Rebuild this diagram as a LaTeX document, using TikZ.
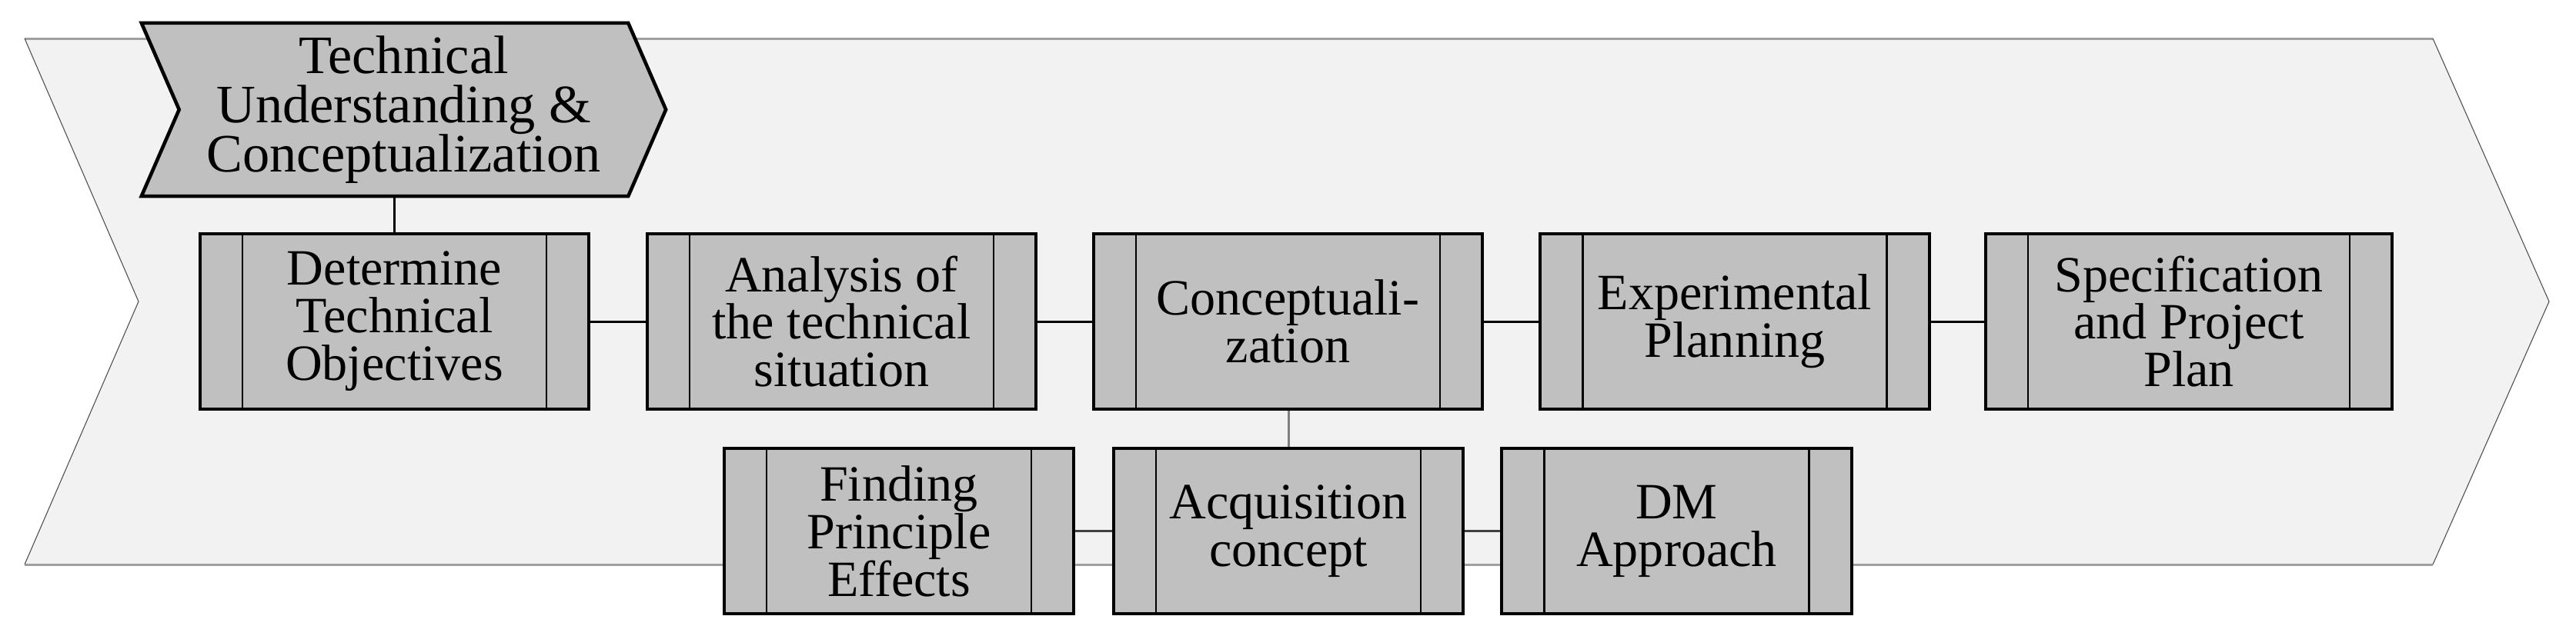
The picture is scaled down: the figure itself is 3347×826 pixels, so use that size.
\documentclass[tikz,border=0pt]{standalone}
\usepackage{fontspec}
\setmainfont{Liberation Serif}
\usetikzlibrary{shapes.symbols}
\definecolor{boxgray}{HTML}{C0C0C0}
\definecolor{bandgray}{HTML}{F2F2F2}
\definecolor{bandline}{HTML}{A0A0A0}
\definecolor{linkgray}{HTML}{7F7F7F}
\tikzset{procbox/.style = {rectangle,draw,fill=boxgray,line width=1.1pt,align=center,
    minimum width=5.05cm,minimum height=2.28cm,inner sep=0pt,
    font=\fontsize{18.8}{17.6}\selectfont,
    path picture={
      \draw[line width=0.7pt] ([xshift=0.55cm]path picture bounding box.north west) -- ([xshift=0.55cm]path picture bounding box.south west);
      \draw[line width=0.7pt] ([xshift=-0.55cm]path picture bounding box.north east) -- ([xshift=-0.55cm]path picture bounding box.south east);}}}
\tikzset{subbox/.style = {procbox,minimum width=4.54cm,minimum height=2.15cm}}
\tikzset{phase/.style = {signal,signal from=west,signal to=east,signal pointer angle=133,
    draw,fill=boxgray,line width=1.3pt,align=center,inner sep=0pt,
    minimum width=6.81cm,minimum height=2.25cm,
    font=\fontsize{20}{18.2}\selectfont}}
\tikzset{link/.style = {line width=0.85pt}}

\begin{document}
\begin{tikzpicture}[x=0.01cm,y=-0.01cm]
                    \useasboundingbox (0,0) rectangle (3347,826);
                    \fill[bandgray] (32,50) -- (3161,50) -- (3312,392) -- (3161,734) -- (32,734) -- (180,392) -- cycle;
                    \draw[bandline,line width=0.85pt] (32,50) -- (3161,50);
                    \draw[bandline,line width=0.85pt] (32,734) -- (3161,734);
                    \draw[black!70,line width=0.3pt] (3161,50) -- (3312,392) -- (3161,734);
                    \draw[black!70,line width=0.3pt] (32,50) -- (180,392) -- (32,734);

                    \node[phase] (phase) at (524.5,142.5) {Technical\\Understanding \&\\Conceptualization};

                    \node[procbox] (objectives) at (512.5,418) {Determine\\Technical\\Objectives};
                    \node[procbox] (analysis) at (1093.5,418) {Analysis of\\the technical\\situation};
                    \node[procbox] (concept) at (1673.5,418) {Conceptuali-\\zation};
                    \node[procbox] (planning) at (2254,418) {Experimental\\Planning};
                    \node[procbox,minimum width=5.28cm] (spec) at (2844,418) {Specification\\and Project\\Plan};

                    \node[subbox] (effects) at (1168,690.5) {Finding\\Principle\\Effects};
                    \node[subbox] (acquisition) at (1674,690.5) {Acquisition\\concept};
                    \node[subbox] (approach) at (2178.5,690.5) {DM\\Approach};

                    \draw[link] (phase.south -| objectives.north) -- (objectives.north);
                    \draw[link] (objectives) -- (analysis);
                    \draw[link] (analysis) -- (concept);
                    \draw[link] (concept) -- (planning);
                    \draw[link] (planning) -- (spec);
                    \draw[link,linkgray] (concept.south -| acquisition.north) -- (acquisition.north);
                    \draw[link,black!75] (effects) -- (acquisition);
                    \draw[link,black!75] (acquisition) -- (approach);
                \end{tikzpicture}
\end{document}
